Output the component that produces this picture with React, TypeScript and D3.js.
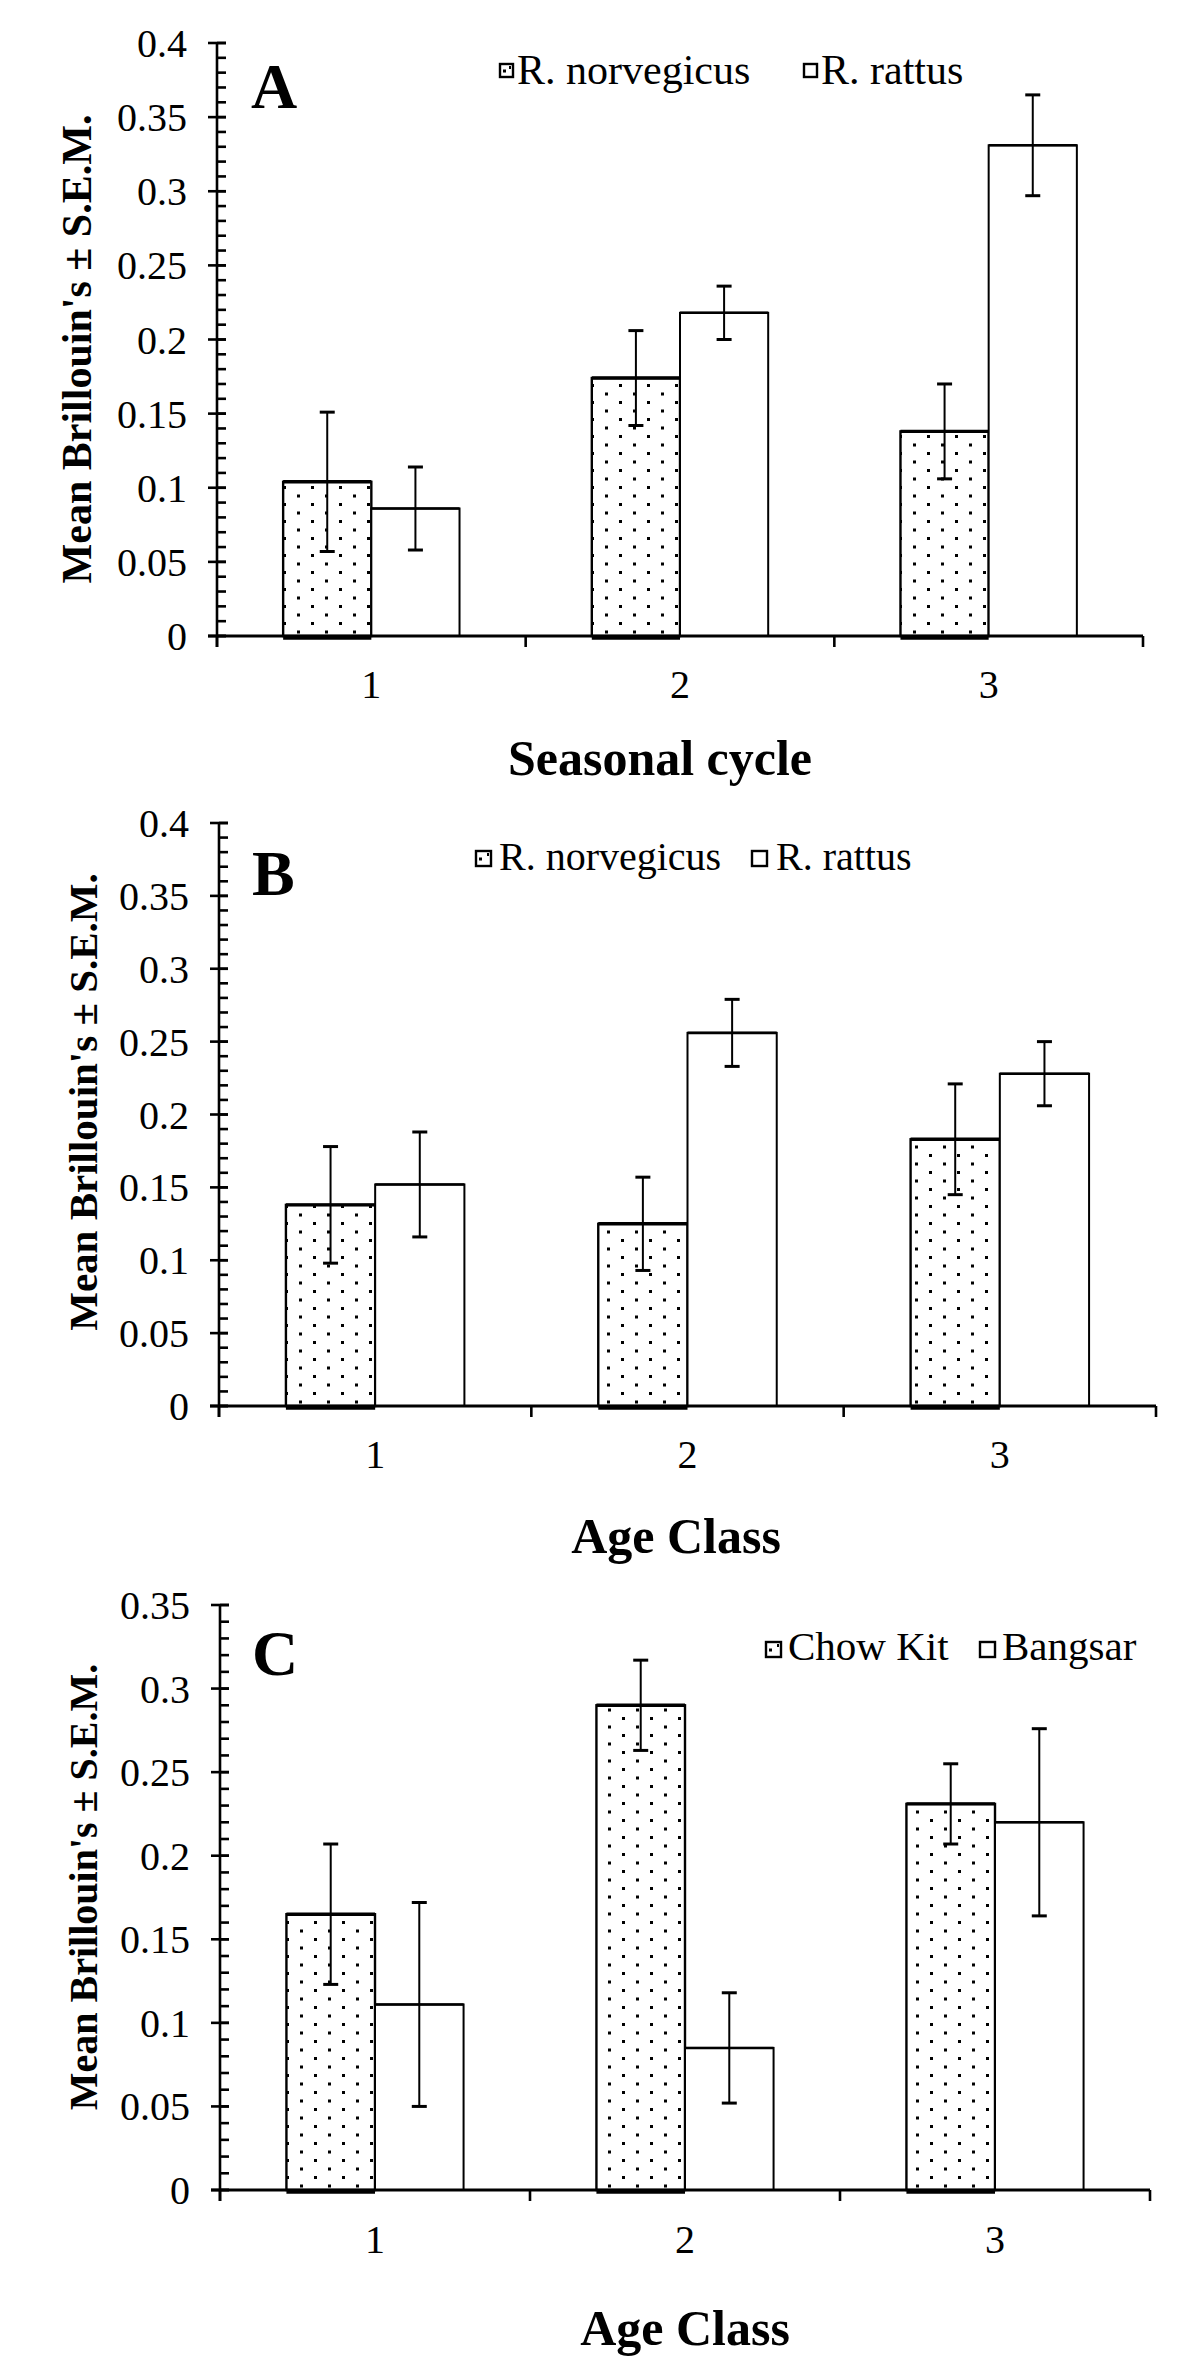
import React from "react";
import * as d3 from "d3";

// ---------- DATA ----------
const categories = ["1", "2", "3"];

// Panel A – Seasonal cycle
const seriesA = ["R. norvegicus", "R. rattus"];
const norvegicusA = [0.104, 0.174, 0.138];
const norvegicusErrA = [0.047, 0.032, 0.032];
const rattusA = [0.086, 0.218, 0.331];
const rattusErrA = [0.028, 0.018, 0.034];

// Panel B – Age class by species
const seriesB = ["R. norvegicus", "R. rattus"];
const norvegicusB = [0.138, 0.125, 0.183];
const norvegicusErrB = [0.04, 0.032, 0.038];
const rattusB = [0.152, 0.256, 0.228];
const rattusErrB = [0.036, 0.023, 0.022];

// Panel C – Age class by location
const seriesC = ["Chow Kit", "Bangsar"];
const chowKitC = [0.165, 0.29, 0.231];
const chowKitErrC = [0.042, 0.027, 0.024];
const bangsarC = [0.111, 0.085, 0.22];
const bangsarErrC = [0.061, 0.033, 0.056];

const yTicksAB = [0, 0.05, 0.1, 0.15, 0.2, 0.25, 0.3, 0.35, 0.4];
const yTickLabelsAB = ["0", "0.05", "0.1", "0.15", "0.2", "0.25", "0.3", "0.35", "0.4"];
const yTicksC = [0, 0.05, 0.1, 0.15, 0.2, 0.25, 0.3, 0.35];
const yTickLabelsC = ["0", "0.05", "0.1", "0.15", "0.2", "0.25", "0.3", "0.35"];

const yLabel = "Mean Brillouin's \u00B1 S.E.M.";

// ---------- LAYOUT ----------
const FONT = "'Liberation Serif', 'Times New Roman', serif";

type Panel = {
  letter: string;
  series: string[];
  values: number[][];
  errors: number[][];
  ticks: number[];
  tickLabels: string[];
  yMax: number;
  x0: number;
  x1: number;
  yTop: number;
  yBottom: number;
  xTitle: string;
  titleX: number;
  titleY: number;
  catLabelY: number;
  yLabelX: number;
  yLabelY: number;
  yLabelSize: number;
  letterX: number;
  letterY: number;
  legend: { box: number; boxY: number; textX: number; textY: number }[];
  boxSize: number;
  legendFont: number;
};

const panels: Panel[] = [
  {
    letter: "A",
    series: seriesA,
    values: [norvegicusA, rattusA],
    errors: [norvegicusErrA, rattusErrA],
    ticks: yTicksAB,
    tickLabels: yTickLabelsAB,
    yMax: 0.4,
    x0: 217,
    x1: 1143,
    yTop: 43,
    yBottom: 636,
    xTitle: "Seasonal cycle",
    titleX: 660,
    titleY: 775,
    catLabelY: 698,
    yLabelX: 91,
    yLabelY: 349,
    yLabelSize: 42,
    letterX: 251,
    letterY: 108,
    legend: [
      { box: 500, boxY: 64, textX: 517, textY: 84 },
      { box: 804, boxY: 64, textX: 821, textY: 84 },
    ],
    boxSize: 13,
    legendFont: 42,
  },
  {
    letter: "B",
    series: seriesB,
    values: [norvegicusB, rattusB],
    errors: [norvegicusErrB, rattusErrB],
    ticks: yTicksAB,
    tickLabels: yTickLabelsAB,
    yMax: 0.4,
    x0: 219,
    x1: 1156,
    yTop: 823,
    yBottom: 1406,
    xTitle: "Age Class",
    titleX: 676,
    titleY: 1553,
    catLabelY: 1468,
    yLabelX: 97,
    yLabelY: 1102,
    yLabelSize: 41,
    letterX: 252,
    letterY: 895,
    legend: [
      { box: 476, boxY: 851, textX: 499, textY: 870 },
      { box: 752, boxY: 851, textX: 776, textY: 870 },
    ],
    boxSize: 15,
    legendFont: 40,
  },
  {
    letter: "C",
    series: seriesC,
    values: [chowKitC, bangsarC],
    errors: [chowKitErrC, bangsarErrC],
    ticks: yTicksC,
    tickLabels: yTickLabelsC,
    yMax: 0.35,
    x0: 220,
    x1: 1150,
    yTop: 1605,
    yBottom: 2190,
    xTitle: "Age Class",
    titleX: 685,
    titleY: 2345,
    catLabelY: 2253,
    yLabelX: 97,
    yLabelY: 1887,
    yLabelSize: 40,
    letterX: 252,
    letterY: 1675,
    legend: [
      { box: 766, boxY: 1642, textX: 788, textY: 1660 },
      { box: 980, boxY: 1642, textX: 1002, textY: 1660 },
    ],
    boxSize: 15,
    legendFont: 41,
  },
];

function PanelChart({ p, idx }: { p: Panel; idx: number }) {
  const y = d3.scaleLinear().domain([0, p.yMax]).range([p.yBottom, p.yTop]);
  const xOuter = d3.scaleBand<string>().domain(categories).range([p.x0, p.x1]).padding(0);
  const xInner = d3
    .scaleBand<string>()
    .domain(p.series)
    .range([0, xOuter.bandwidth()])
    .paddingInner(0)
    .paddingOuter(0.75);
  const bw = xInner.bandwidth();
  const minorCount = Math.round(p.yMax / 0.01);
  const minorTicks = d3.range(0, minorCount + 1).map((i) => i * 0.01);
  const patId = `dots${idx}`;
  const lw = 2.6;

  return (
    <g>
      <defs>
        <pattern id={patId} patternUnits="userSpaceOnUse" width={28} height={17} x={p.x0 + 4} y={p.yBottom}>
          <rect x={0} y={0} width={28} height={17} fill="#fff" />
          <rect x={6} y={3} width={3} height={3} fill="#000" />
          <rect x={20} y={11.5} width={3} height={3} fill="#000" />
        </pattern>
      </defs>

      {/* bars */}
      {categories.map((c, ci) =>
        p.series.map((s, si) => {
          const v = p.values[si][ci];
          const bx = (xOuter(c) as number) + (xInner(s) as number);
          const top = y(v);
          return (
            <g key={`${c}-${s}`}>
              <rect
                x={bx}
                y={top}
                width={bw}
                height={p.yBottom - top}
                fill={si === 0 ? `url(#${patId})` : "#fff"}
                stroke="#000"
                strokeWidth={si === 0 ? 2.4 : 2}
              />
              {si === 0 && (
                <>
                  <line x1={bx} x2={bx + bw} y1={top} y2={top} stroke="#000" strokeWidth={3.4} />
                  <line x1={bx} x2={bx + bw} y1={p.yBottom + 1.5} y2={p.yBottom + 1.5} stroke="#000" strokeWidth={4.5} />
                </>
              )}
              {si === 1 && <line x1={bx} x2={bx + bw} y1={top} y2={top} stroke="#000" strokeWidth={2.6} />}
            </g>
          );
        })
      )}

      {/* error bars */}
      {categories.map((c, ci) =>
        p.series.map((s, si) => {
          const v = p.values[si][ci];
          const e = p.errors[si][ci];
          const cx = (xOuter(c) as number) + (xInner(s) as number) + bw / 2;
          const yt = y(v + e);
          const yb = y(v - e);
          return (
            <g key={`e-${c}-${s}`} stroke="#000">
              <line x1={cx} x2={cx} y1={yt} y2={yb} strokeWidth={2} />
              <line x1={cx - 7.5} x2={cx + 7.5} y1={yt} y2={yt} strokeWidth={3} />
              <line x1={cx - 7.5} x2={cx + 7.5} y1={yb} y2={yb} strokeWidth={3} />
            </g>
          );
        })
      )}

      {/* y axis */}
      <line x1={p.x0} x2={p.x0} y1={p.yTop} y2={p.yBottom + 11} stroke="#000" strokeWidth={lw} />
      {minorTicks.map((t, i) => (
        <line key={`mi${i}`} x1={p.x0} x2={p.x0 + 9} y1={y(t)} y2={y(t)} stroke="#000" strokeWidth={lw} />
      ))}
      {p.ticks.map((t, i) => (
        <g key={`ma${i}`}>
          <line x1={p.x0 - 9} x2={p.x0 + 9} y1={y(t)} y2={y(t)} stroke="#000" strokeWidth={lw} />
          <text
            x={p.x0 - 30}
            y={y(t)}
            dy="0.35em"
            textAnchor="end"
            fontFamily={FONT}
            fontSize={40}
            fill="#000"
          >
            {p.tickLabels[i]}
          </text>
        </g>
      ))}

      {/* x axis */}
      <line x1={p.x0 - 9} x2={p.x1} y1={p.yBottom} y2={p.yBottom} stroke="#000" strokeWidth={3} />
      {[...categories.map((c) => xOuter(c) as number), p.x1].map((xx, i) => (
        <line key={`xt${i}`} x1={xx} x2={xx} y1={p.yBottom} y2={p.yBottom + 11} stroke="#000" strokeWidth={lw} />
      ))}
      {categories.map((c) => (
        <text
          key={`cl${c}`}
          x={(xOuter(c) as number) + xOuter.bandwidth() / 2}
          y={p.catLabelY}
          textAnchor="middle"
          fontFamily={FONT}
          fontSize={40}
          fill="#000"
        >
          {c}
        </text>
      ))}

      {/* x title */}
      <text
        x={p.titleX}
        y={p.titleY}
        textAnchor="middle"
        fontFamily={FONT}
        fontWeight="bold"
        fontSize={50}
        fill="#000"
      >
        {p.xTitle}
      </text>

      {/* y title */}
      <text
        transform={`translate(${p.yLabelX},${p.yLabelY}) rotate(-90)`}
        textAnchor="middle"
        fontFamily={FONT}
        fontWeight="bold"
        fontSize={p.yLabelSize}
        fill="#000"
      >
        {yLabel}
      </text>

      {/* panel letter */}
      <text x={p.letterX} y={p.letterY} fontFamily={FONT} fontWeight="bold" fontSize={64} fill="#000">
        {p.letter}
      </text>

      {/* legend */}
      {p.series.map((s, si) => {
        const L = p.legend[si];
        return (
          <g key={`lg${si}`}>
            <rect x={L.box} y={L.boxY} width={p.boxSize} height={p.boxSize} fill="#fff" stroke="#000" strokeWidth={2.4} />
            {si === 0 && (
              <>
                <rect x={L.box + 3} y={L.boxY + p.boxSize / 2 - 1} width={3} height={3} fill="#000" />
                <rect x={L.box + p.boxSize - 4} y={L.boxY + 2} width={2} height={3} fill="#000" />
              </>
            )}
            <text x={L.textX} y={L.textY} fontFamily={FONT} fontSize={p.legendFont} fill="#000">
              {s}
            </text>
          </g>
        );
      })}
    </g>
  );
}

export default function App() {
  React.useLayoutEffect(() => {
    document.body.style.margin = "0";
  }, []);
  return (
    <svg
      width={1200}
      height={2371}
      viewBox="0 0 1200 2371"
      style={{ display: "block", background: "#fff" }}
    >
      <rect x={0} y={0} width={1200} height={2371} fill="#fff" />
      {panels.map((p, i) => (
        <PanelChart key={p.letter} p={p} idx={i} />
      ))}
    </svg>
  );
}
